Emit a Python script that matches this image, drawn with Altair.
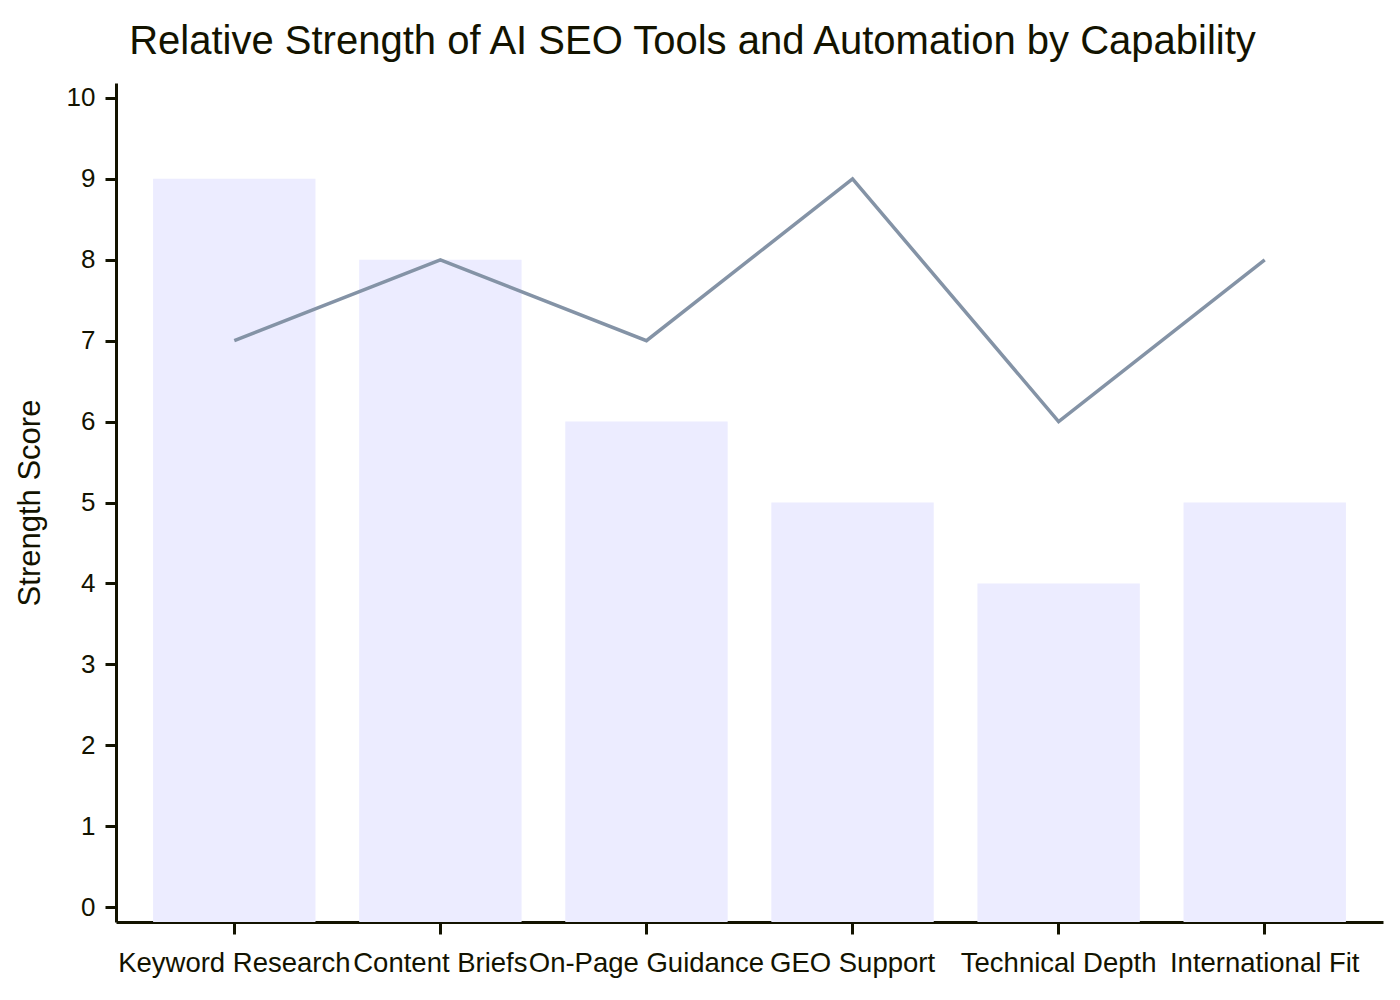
import altair as alt
import pandas as pd

categories = ["Keyword Research", "Content Briefs", "On-Page Guidance",
              "GEO Support", "Technical Depth", "International Fit"]
bar_values = [9, 8, 6, 5, 4, 5]
line_values = [7, 8, 7, 9, 6, 8]
y_ticks = list(range(0, 11))
title_text = "Relative Strength of AI SEO Tools and Automation by Capability"
y_title = "Strength Score"

Y_MIN, Y_MAX = -0.185, 10.185
df = pd.DataFrame({"cat": categories, "bar": bar_values, "line": line_values})
df["base"] = Y_MIN

TXT = "#131300"
FONT = "Liberation Sans"

x_enc = alt.X(
    "cat:N", sort=categories, title=None,
    scale=alt.Scale(paddingInner=0.212, paddingOuter=0.18),
    axis=alt.Axis(labelAngle=0, labelLimit=0, labelOverlap=False, labelBound=False,
                  labelFontSize=27.5, labelFont=FONT, labelColor=TXT, labelPadding=15,
                  tickSize=12, tickWidth=3, tickColor=TXT,
                  domainWidth=3, domainColor=TXT, grid=False),
)
y_scale = alt.Scale(domain=[Y_MIN, Y_MAX], nice=False, zero=False)
y_axis = alt.Axis(values=y_ticks, labelFontSize=26, labelFont=FONT, labelColor=TXT,
                  labelPadding=10, tickSize=11, tickWidth=3, tickColor=TXT,
                  domainWidth=3, domainColor=TXT, grid=False,
                  title=y_title, titleFontSize=31, titleFont=FONT, titleColor=TXT,
                  titleFontWeight="normal", titlePadding=20)

bars = alt.Chart(df).mark_bar(color="#ECECFF").encode(
    x=x_enc,
    y=alt.Y("bar:Q", scale=y_scale, axis=y_axis),
    y2="base:Q",
)
line = alt.Chart(df).mark_line(color="#8493A6", strokeWidth=3.5, strokeJoin="miter").encode(
    x=x_enc,
    y=alt.Y("line:Q", scale=y_scale, axis=y_axis),
)

chart = alt.layer(bars, line).properties(
    width=1267, height=839,
    padding={"left": 108, "top": 75, "right": 5, "bottom": 62},
    autosize=alt.AutoSizeParams(type="none"),
    title=alt.Title(title_text, fontSize=40, font=FONT, color=TXT, fontWeight="normal",
                    anchor="middle", frame="group", dx=-57, offset=21),
).configure_view(stroke=None)

chart.save("out.html", embed_options={"renderer": "svg", "actions": False})
